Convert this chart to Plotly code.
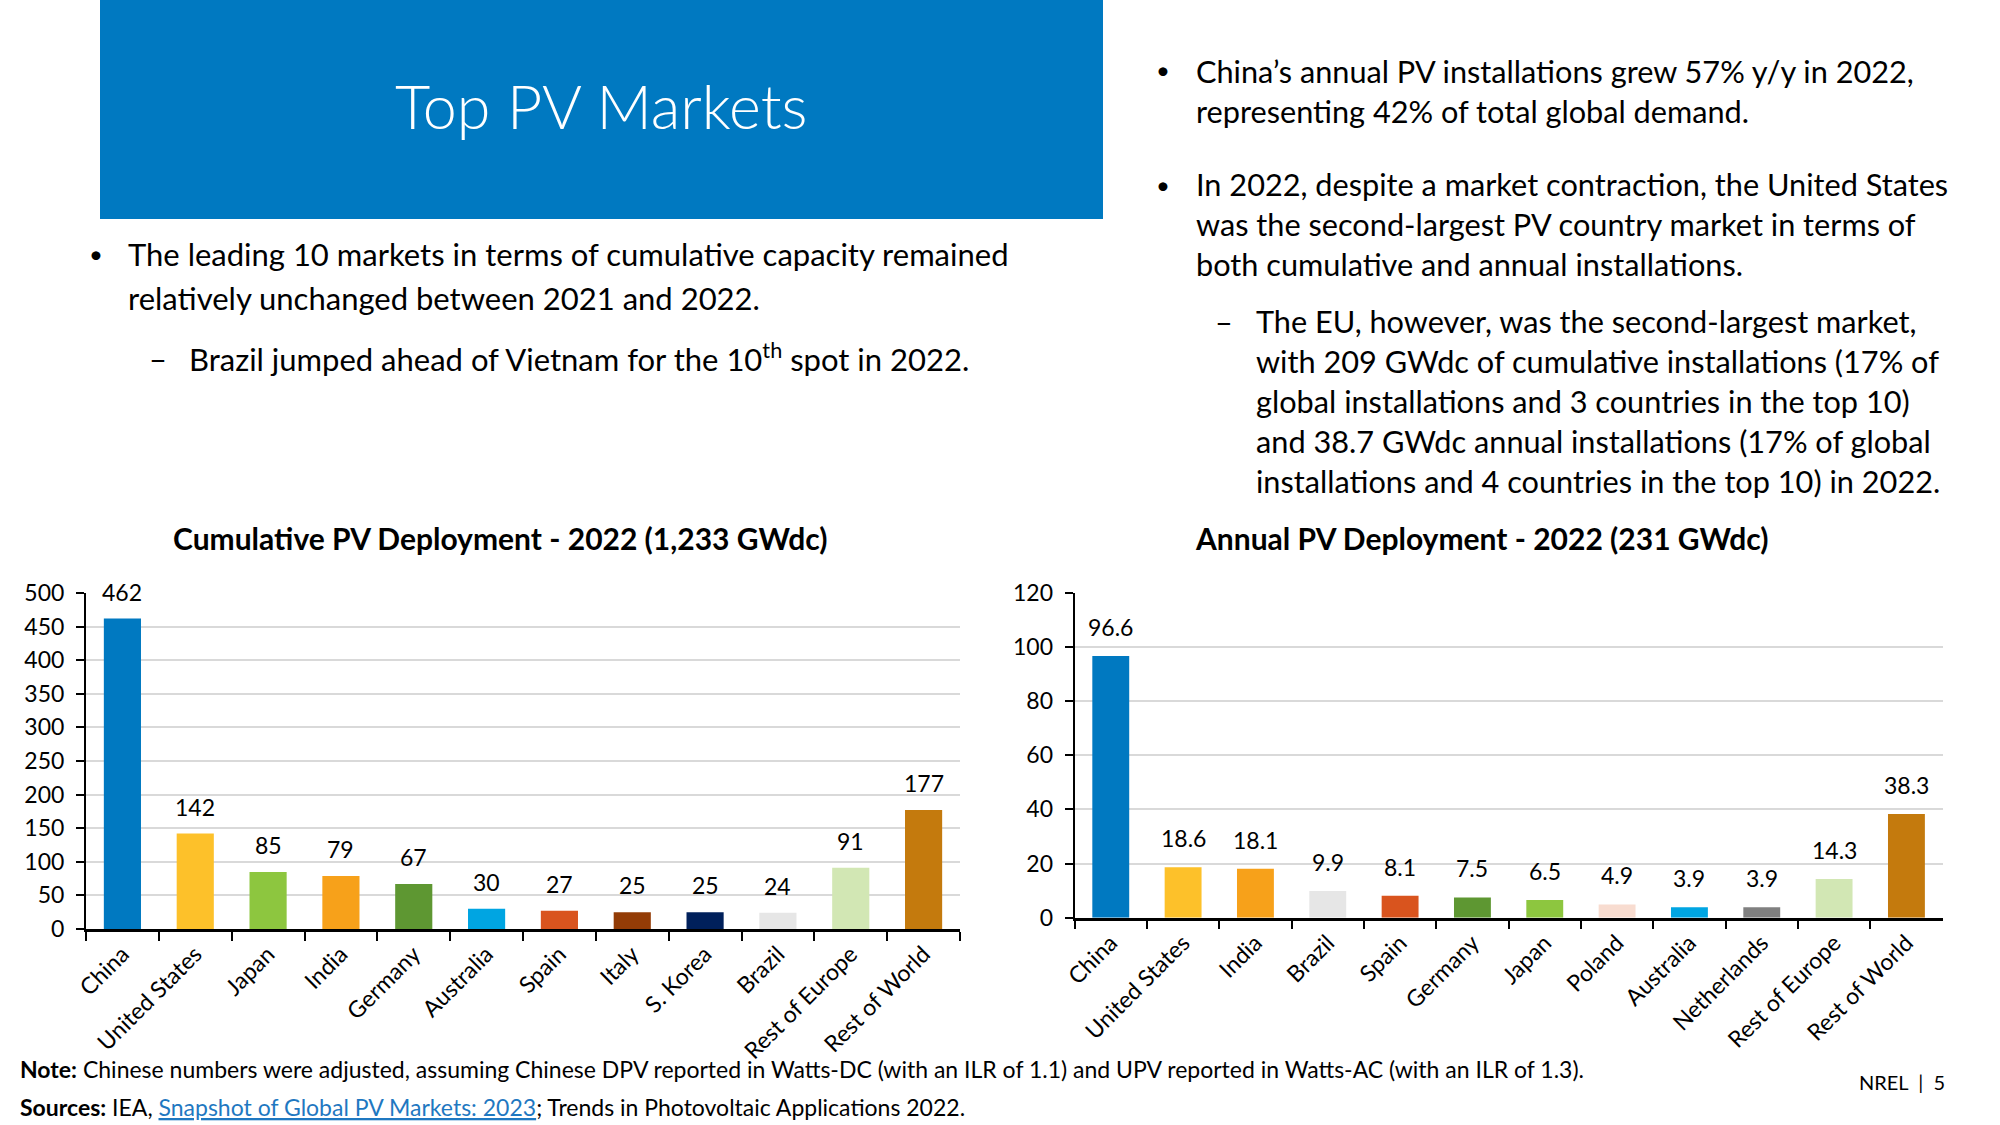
import plotly.graph_objects as go

# ---------------- data ----------------
cum_categories = ["China", "United States", "Japan", "India", "Germany", "Australia",
                  "Spain", "Italy", "S. Korea", "Brazil", "Rest of Europe", "Rest of World"]
cum_values = [462, 142, 85, 79, 67, 30, 27, 25, 25, 24, 91, 177]
cum_colors = ["#0079C1", "#FDC12A", "#8DC63F", "#F7A11A", "#5E9732", "#00A5E2",
              "#D9541E", "#933C06", "#00205B", "#E6E6E6", "#D2E7B4", "#C47A0D"]

ann_categories = ["China", "United States", "India", "Brazil", "Spain", "Germany",
                  "Japan", "Poland", "Australia", "Netherlands", "Rest of Europe", "Rest of World"]
ann_values = [96.6, 18.6, 18.1, 9.9, 8.1, 7.5, 6.5, 4.9, 3.9, 3.9, 14.3, 38.3]
ann_colors = ["#0079C1", "#FDC12A", "#F7A11A", "#E6E6E6", "#D9541E", "#5E9732",
              "#8DC63F", "#F8DCD0", "#00A5E2", "#808080", "#D2E7B4", "#C47A0D"]

cum_ticks = [0, 50, 100, 150, 200, 250, 300, 350, 400, 450, 500]
ann_ticks = [0, 20, 40, 60, 80, 100, 120]

cum_title = "Cumulative PV Deployment - 2022 (1,233 GWdc)"
ann_title = "Annual PV Deployment - 2022 (231 GWdc)"

W, H = 2000, 1125
FONT = "Lato"
BODY = 31
NUM = 23


def px(x):
    return x / W


def py(y):
    return 1 - y / H


fig = go.Figure()

fig.add_trace(go.Bar(x=cum_categories, y=cum_values, marker=dict(color=cum_colors, line=dict(width=0)),
                     xaxis="x", yaxis="y", showlegend=False, hoverinfo="x+y"))
fig.add_trace(go.Bar(x=ann_categories, y=ann_values, marker=dict(color=ann_colors, line=dict(width=0)),
                     xaxis="x2", yaxis="y2", showlegend=False, hoverinfo="x+y"))

annotations = []
# data labels
for c, v in zip(cum_categories, cum_values):
    annotations.append(dict(x=c, y=v, xref="x", yref="y", text=f"{v:d}", showarrow=False,
                            yanchor="middle", yshift=27, font=dict(family=FONT, size=NUM, color="#000")))
for c, v in zip(ann_categories, ann_values):
    annotations.append(dict(x=c, y=v, xref="x2", yref="y2", text=f"{v:.1f}", showarrow=False,
                            yanchor="middle", yshift=29, font=dict(family=FONT, size=NUM, color="#000")))


def txt(x, y, s, size=BODY, anchor="left", color="#000", weight=None, family=FONT):
    f = dict(family=family, size=size, color=color)
    if weight:
        f["weight"] = weight
    annotations.append(dict(x=px(x), y=py(y), xref="paper", yref="paper", text=s, showarrow=False,
                            xanchor=anchor, yanchor="middle", font=f))


# slide title
txt(601, 106, "Top PV Markets", size=61, anchor="center", color="#FFFFFF", weight=300)

# left bullets
txt(87, 253, "•", size=24)
txt(126, 254, "The leading 10 markets in terms of cumulative capacity remained")
txt(126, 298, "relatively unchanged between 2021 and 2022.")
txt(147, 358, "–")
txt(187, 358, "Brazil jumped ahead of Vietnam for the 10<sup>th</sup> spot in 2022.")

# right bullets
RB = 30.7
txt(1154, 70, "•", size=24)
txt(1194, 71, "China’s annual PV installations grew 57% y/y in 2022,", size=RB)
txt(1194, 111, "representing 42% of total global demand.", size=RB)
txt(1154, 184, "•", size=24)
txt(1194, 185, "In 2022, despite a market contraction, the United States", size=RB)
txt(1194, 225, "was the second-largest PV country market in terms of", size=RB)
txt(1194, 265, "both cumulative and annual installations.", size=RB)
txt(1213, 321, "–", size=RB)
txt(1254, 321, "The EU, however, was the second-largest market,", size=RB)
txt(1254, 361, "with 209 GWdc of cumulative installations (17% of", size=RB)
txt(1254, 402, "global installations and 3 countries in the top 10)", size=RB)
txt(1254, 441, "and 38.7 GWdc annual installations (17% of global", size=RB)
txt(1254, 482, "installations and 4 countries in the top 10) in 2022.", size=RB)

# chart titles
txt(500, 538, f"<b>{cum_title}</b>", size=30, anchor="center")
txt(1481, 538, f"<b>{ann_title}</b>", size=30, anchor="center")

# footer
txt(18, 1069, "<b>Note:</b> Chinese numbers were adjusted, assuming Chinese DPV reported in Watts-DC "
              "(with an ILR of 1.1) and UPV reported in Watts-AC (with an ILR of 1.3).", size=23)
txt(18, 1107, "<b>Sources:</b> IEA, <span style='color:#1F78C1'><u>Snapshot of Global PV Markets: 2023</u></span>; "
              "Trends in Photovoltaic Applications 2022.", size=23)
txt(1947, 1082, "NREL  |  5", size=20, anchor="right")

axis_common_x = dict(type="category", showline=True, linecolor="#000", linewidth=2.5,
                     ticks="outside", ticklen=9, tickwidth=2, tickcolor="#000", tickson="boundaries",
                     tickangle=-45, tickfont=dict(family=FONT, size=NUM, color="#000"),
                     showgrid=False, zeroline=False, fixedrange=True)
axis_common_y = dict(showline=True, linecolor="#000", linewidth=2, ticks="outside", ticklen=8,
                     tickwidth=2, tickcolor="#000", showgrid=True, gridcolor="#D9D9D9", gridwidth=2,
                     zeroline=False, tickfont=dict(family=FONT, size=NUM, color="#000"),
                     ticklabelstandoff=7, fixedrange=True)

fig.update_layout(
    width=W, height=H, autosize=False, margin=dict(l=0, r=0, t=0, b=0, autoexpand=False),
    paper_bgcolor="#FFFFFF", plot_bgcolor="#FFFFFF",
    bargap=0.49, showlegend=False,
    xaxis=dict(domain=[px(86), px(960)], anchor="y", **axis_common_x),
    yaxis=dict(domain=[py(929), py(593)], anchor="x", range=[0, 500], tickvals=cum_ticks, **axis_common_y),
    xaxis2=dict(domain=[px(1074.6), px(1942.6)], anchor="y2", **axis_common_x),
    yaxis2=dict(domain=[py(917.7), py(592.7)], anchor="x2", range=[0, 120], tickvals=ann_ticks, **axis_common_y),
    shapes=[dict(type="rect", xref="paper", yref="paper", x0=px(100), x1=px(1103), y0=py(219), y1=py(0),
                 fillcolor="#0079C1", line=dict(width=0), layer="below")],
    annotations=annotations,
    font=dict(family=FONT, color="#000"),
)

post = ("document.body.style.margin='0';document.body.style.overflow='hidden';"
        "var gd=document.getElementById('{plot_id}');"
        "Plotly.relayout(gd,{width:2000,height:1125,autosize:false});")
fig.write_html("out.html", config={"responsive": False, "displayModeBar": False}, post_script=post)
